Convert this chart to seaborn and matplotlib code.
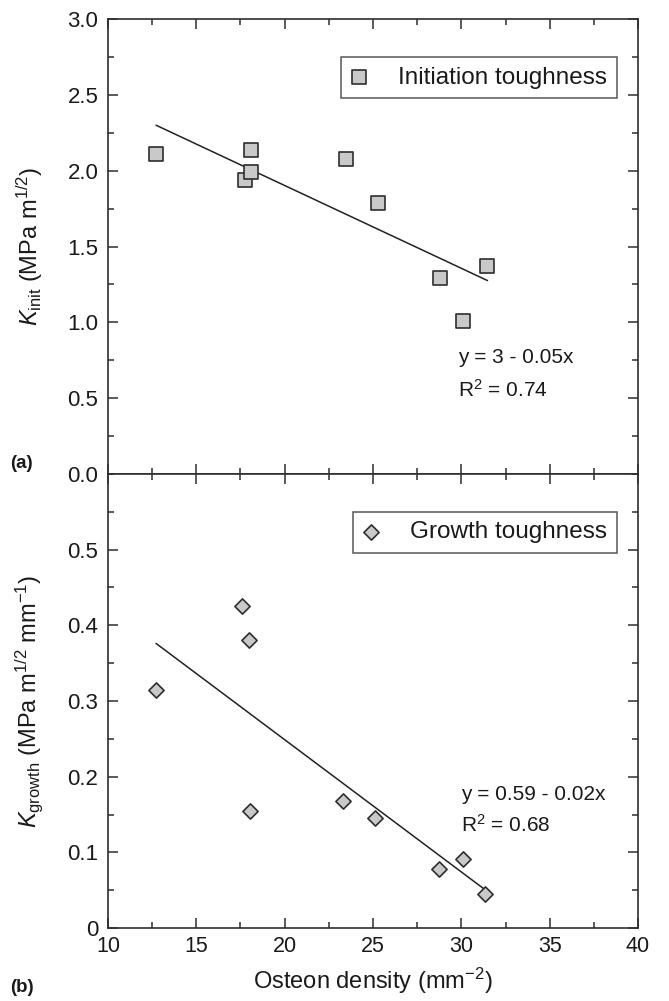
import numpy as np
import pandas as pd
import matplotlib
matplotlib.use("Agg")
import matplotlib.pyplot as plt
import seaborn as sns
from matplotlib.ticker import MultipleLocator, FixedLocator, FixedFormatter

# ---- data ----
density_init = [12.72, 17.77, 18.07, 18.12, 23.45, 25.26, 28.81, 30.09, 31.48]
k_init = [2.11, 1.94, 2.14, 1.99, 2.08, 1.79, 1.29, 1.01, 1.37]

density_growth = [12.72, 17.58, 17.99, 18.04, 23.32, 25.13, 28.76, 30.11, 31.35]
k_growth = [0.315, 0.425, 0.381, 0.155, 0.168, 0.145, 0.078, 0.091, 0.045]

x_ticks = [10, 15, 20, 25, 30, 35, 40]
y_ticks_a = [0.0, 0.5, 1.0, 1.5, 2.0, 2.5, 3.0]
y_labels_a = ["0.0", "0.5", "1.0", "1.5", "2.0", "2.5", "3.0"]
y_ticks_b = [0.0, 0.1, 0.2, 0.3, 0.4, 0.5]
y_labels_b = ["0", "0.1", "0.2", "0.3", "0.4", "0.5"]

eq_a = ["y = 3 - 0.05x", "R$^2$ = 0.74"]
eq_b = ["y = 0.59 - 0.02x", "R$^2$ = 0.68"]

df_a = pd.DataFrame({"density": density_init, "k": k_init})
df_b = pd.DataFrame({"density": density_growth, "k": k_growth})

sns.set_theme(style="ticks")
plt.rcParams["font.family"] = ["Liberation Sans", "DejaVu Sans"]
plt.rcParams["mathtext.fontset"] = "custom"
plt.rcParams["mathtext.rm"] = "Liberation Sans"
plt.rcParams["mathtext.it"] = "Liberation Sans:italic"
plt.rcParams["mathtext.bf"] = "Liberation Sans:bold"

EDGE = "#2e2e2e"
FILL = "#c9c9c9"
TXT = "#1a1a1a"

fig = plt.figure(figsize=(6.69, 10.01), dpi=100)
L, W = 0.1614, 0.7923
ax1 = fig.add_axes([L, 0.5265, W, 0.4543])
ax2 = fig.add_axes([L, 0.0729, W, 0.4536])

# panel (a)
sns.regplot(data=df_a, x="density", y="k", ax=ax1, scatter=False, ci=None,
            truncate=True, line_kws=dict(color="#222222", lw=1.1))
sns.scatterplot(data=df_a, x="density", y="k", ax=ax1, marker="s", s=95,
                color=FILL, edgecolor=EDGE, linewidth=1.2,
                label="Initiation toughness", zorder=3)

# panel (b)
sns.regplot(data=df_b, x="density", y="k", ax=ax2, scatter=False, ci=None,
            truncate=True, line_kws=dict(color="#222222", lw=1.1))
sns.scatterplot(data=df_b, x="density", y="k", ax=ax2, marker="D", s=60,
                color=FILL, edgecolor=EDGE, linewidth=1.2,
                label="Growth toughness", zorder=3)

for ax in (ax1, ax2):
    ax.set_xlim(10, 40)
    ax.xaxis.set_major_locator(FixedLocator(x_ticks))
    ax.xaxis.set_minor_locator(MultipleLocator(2.5))
    ax.tick_params(which="both", direction="in", top=True, right=True,
                   color=EDGE, width=1.1, labelcolor=TXT)
    ax.tick_params(axis="x", labelsize=15.5, pad=6)
    ax.tick_params(axis="y", labelsize=16, pad=7)
    ax.tick_params(which="major", length=7)
    ax.tick_params(which="minor", length=4)
    for sp in ax.spines.values():
        sp.set_color(EDGE)
        sp.set_linewidth(1.2)
    leg = ax.legend(loc="upper right", bbox_to_anchor=(0.9604, 0.917),
                    borderaxespad=0, frameon=True, fancybox=False,
                    fontsize=17.5, handlelength=0.64, handletextpad=1.3,
                    borderpad=0.4)
    leg.get_frame().set_edgecolor(EDGE)
    leg.get_frame().set_linewidth(1.1)
    for t in leg.get_texts():
        t.set_color(TXT)

ax1.set_ylim(0, 3.0)
ax1.yaxis.set_major_locator(FixedLocator(y_ticks_a))
ax1.yaxis.set_major_formatter(FixedFormatter(y_labels_a))
ax1.yaxis.set_minor_locator(MultipleLocator(0.25))
ax1.tick_params(axis="x", labelbottom=False)
ax1.set_xlabel("")
ax1.set_ylabel(r"$K_{\mathrm{init}}$ (MPa m$^{1/2}$)", fontsize=17, color=TXT)
ax1.yaxis.set_label_coords(-0.118, 0.5)

ax2.set_ylim(0, 0.6)
ax2.yaxis.set_major_locator(FixedLocator(y_ticks_b))
ax2.yaxis.set_major_formatter(FixedFormatter(y_labels_b))
ax2.yaxis.set_minor_locator(MultipleLocator(0.05))
ax2.set_xlabel(r"Osteon density (mm$^{-2}$)", fontsize=17, color=TXT, labelpad=6)
ax2.set_ylabel(r"$K_{\mathrm{growth}}$ (MPa m$^{1/2}$ mm$^{-1}$)", fontsize=17, color=TXT)
ax2.yaxis.set_label_coords(-0.118, 0.5)

ax1.text(29.8, 0.77, eq_a[0], fontsize=15, color=TXT, va="center", ha="left")
ax1.text(29.8, 0.555, eq_a[1], fontsize=15, color=TXT, va="center", ha="left")
ax2.text(30.0, 0.177, eq_b[0], fontsize=15, color=TXT, va="center", ha="left")
ax2.text(30.0, 0.137, eq_b[1], fontsize=15, color=TXT, va="center", ha="left")

fig.text(10 / 669, 1 - 463 / 1001, "(a)", fontsize=13.5, fontweight="bold", color=TXT, va="center")
fig.text(10 / 669, 1 - 988 / 1001, "(b)", fontsize=13.5, fontweight="bold", color=TXT, va="center")

fig.savefig("out.png", dpi=100)
